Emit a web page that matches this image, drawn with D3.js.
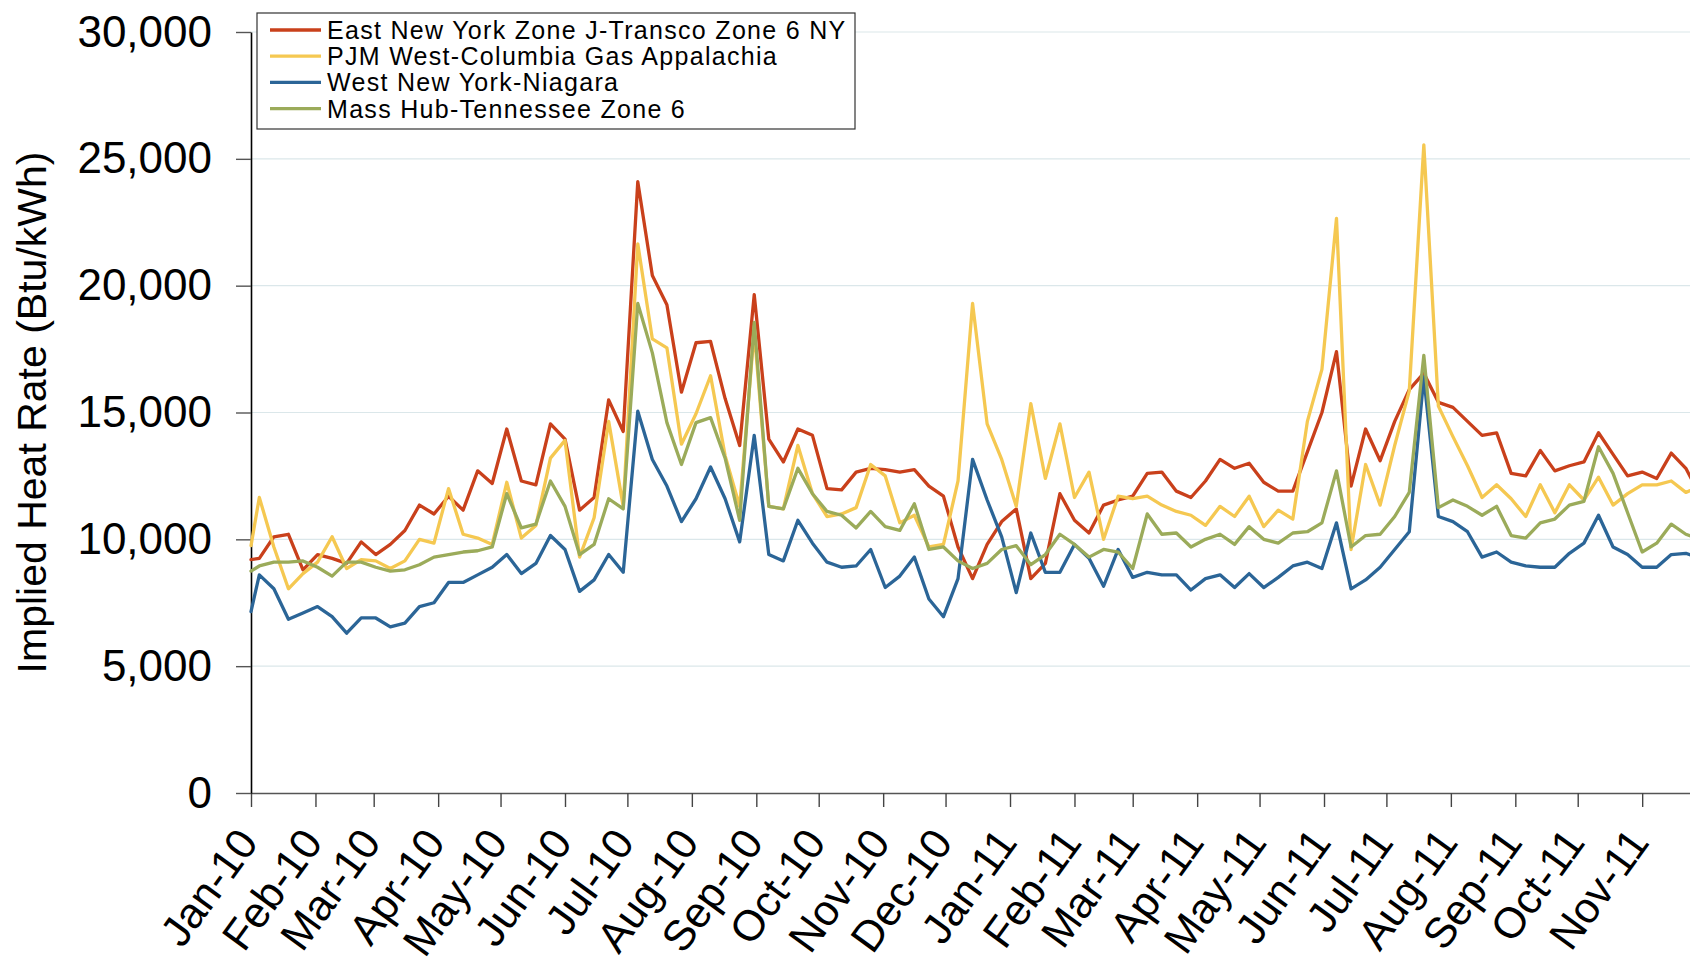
<!DOCTYPE html>
<html>
<head>
<meta charset="utf-8">
<script src="https://cdn.jsdelivr.net/npm/d3@7"></script>
<style>
    body { margin: 0; background: #ffffff; }
    svg text { font-family: "Liberation Sans", Arial, sans-serif; fill: #000; }
    .grid line { stroke: #dbe7ea; stroke-width: 1.2; }
    .y-axis path { stroke: #000; stroke-width: 1.6; }
    .y-axis line { stroke: #555; stroke-width: 1.4; }
    .x-axis path { stroke: #555; stroke-width: 1.6; }
    .x-axis line { stroke: #444; stroke-width: 1.4; }
    .series { fill: none; stroke-width: 3.3; stroke-linejoin: round; stroke-linecap: round; }
</style>
</head>
<body>
<div id="chart"></div>
<script>

// Weekly observations: first point on Jan 1 2010, then every 7 days from Jan 5 2010
const firstDate = new Date(2010, 0, 1);
const weeklyStart = new Date(2010, 0, 5);
const weekCount = 100;

const seriesNames = [
    "East New York Zone J-Transco Zone 6 NY",
    "PJM West-Columbia Gas Appalachia",
    "West New York-Niagara",
    "Mass Hub-Tennessee Zone 6"
];

const seriesColors = ["#c9401b", "#f5c851", "#2b6597", "#9bab5a"];

// Implied heat rate, Btu/kWh
const eastNY = [
    9200, 9250, 10100, 10200, 8800, 9400, 9250, 9050, 9900, 9400,
    9800, 10350, 11350, 11000, 11700, 11150, 12700, 12200, 14350, 12300,
    12150, 14550, 13950, 11150, 11650, 15500, 14250, 24100, 20400, 19250,
    15800, 17750, 17800, 15550, 13700, 19650, 13950, 13050, 14350, 14100,
    12000, 11950, 12650, 12800, 12750, 12650, 12750, 12100, 11700, 9700,
    8450, 9800, 10700, 11200, 8450, 9050, 11800, 10750, 10250, 11350,
    11550, 11700, 12600, 12650, 11900, 11650, 12300, 13150, 12800, 13000,
    12250, 11900, 11900, 13450, 15000, 17400, 12100, 14350, 13100, 14650,
    15900, 16550, 15400, 15200, 14650, 14100, 14200, 12600, 12500, 13500,
    12700, 12900, 13050, 14200, 13350, 12500, 12650, 12400, 13400, 12800,
    11700
];

const pjmWest = [
    9750, 11650, 9700, 8050, 8650, 9100, 10100, 8850, 9200, 9150,
    8850, 9150, 10000, 9850, 12000, 10200, 10050, 9800, 12250, 10050,
    10550, 13200, 13900, 9300, 10850, 14650, 11300, 21650, 17900, 17550,
    13750, 14950, 16450, 13300, 11300, 18200, 11300, 11200, 13700, 11800,
    10900, 11000, 11250, 12950, 12500, 10650, 10950, 9700, 9800, 12300,
    19300, 14550, 13150, 11300, 15350, 12400, 14550, 11650, 12650, 10000,
    11700, 11600, 11700, 11350, 11100, 10950, 10550, 11300, 10900, 11700,
    10500, 11150, 10800, 14650, 16700, 22650, 9600, 12950, 11350, 13700,
    15850, 25550, 15250, 14050, 12900, 11650, 12150, 11600, 10900, 12150,
    11050, 12150, 11550, 12450, 11350, 11800, 12150, 12150, 12300, 11850,
    12100
];

const westNY = [
    7150, 8600, 8050, 6850, 7100, 7350, 6950, 6300, 6900, 6900,
    6550, 6700, 7350, 7500, 8300, 8300, 8600, 8900, 9400, 8650,
    9050, 10150, 9600, 7950, 8400, 9400, 8700, 15050, 13150, 12100,
    10700, 11600, 12850, 11600, 9900, 14100, 9400, 9150, 10750, 9850,
    9100, 8900, 8950, 9600, 8100, 8550, 9300, 7650, 6950, 8450,
    13150, 11550, 10100, 7900, 10250, 8700, 8700, 9800, 9250, 8150,
    9600, 8500, 8700, 8600, 8600, 8000, 8450, 8600, 8100, 8650,
    8100, 8500, 8950, 9100, 8850, 10650, 8050, 8400, 8900, 9600,
    10300, 16400, 10900, 10700, 10300, 9300, 9500, 9100, 8950, 8900,
    8900, 9450, 9850, 10950, 9700, 9400, 8900, 8900, 9400, 9450,
    9250
];

const massHub = [
    8750, 8950, 9100, 9100, 9150, 8900, 8550, 9100, 9100, 8900,
    8750, 8800, 9000, 9300, 9400, 9500, 9550, 9700, 11800, 10450,
    10600, 12300, 11300, 9400, 9800, 11600, 11200, 19300, 17350, 14600,
    12950, 14600, 14800, 13200, 10750, 18550, 11300, 11200, 12800, 11800,
    11100, 10950, 10450, 11100, 10500, 10350, 11400, 9600, 9700, 9150,
    8850, 9050, 9600, 9750, 9000, 9400, 10200, 9800, 9300, 9600,
    9500, 8850, 11000, 10200, 10250, 9700, 10000, 10200, 9800, 10500,
    10000, 9850, 10250, 10300, 10650, 12700, 9700, 10150, 10200, 10900,
    11850, 17250, 11250, 11550, 11300, 10950, 11300, 10150, 10050, 10650,
    10800, 11350, 11500, 13650, 12600, 11050, 9500, 9850, 10600, 10200,
    10000
];

const yTicks = [0, 5000, 10000, 15000, 20000, 25000, 30000];
const yTitle = "Implied Heat Rate (Btu/kWh)";

// visible date window of the picture
const xStart = new Date(2010, 0, 1);
const xEnd = new Date(2011, 10, 24);


class cLineChart {

    constructor(_parentElement, _dates, _series) {
        this.parentElement = _parentElement;
        this.dates = _dates;
        this.series = _series;
        this.initVis();
    }

    initVis() {
        let vis = this;

        vis.margin = { top: 32, right: 0, bottom: 176, left: 251 };
        vis.totalWidth = 1690;
        vis.totalHeight = 969;
        vis.width = vis.totalWidth - vis.margin.left - vis.margin.right;
        vis.height = vis.totalHeight - vis.margin.top - vis.margin.bottom;

        vis.svgRoot = d3.select("#" + vis.parentElement).append("svg")
            .attr("width", vis.totalWidth)
            .attr("height", vis.totalHeight);

        vis.svgRoot.append("rect")
            .attr("width", vis.totalWidth)
            .attr("height", vis.totalHeight)
            .attr("fill", "#fff");

        vis.svg = vis.svgRoot.append("g")
            .attr("transform", "translate(" + vis.margin.left + "," + vis.margin.top + ")");

        // Scales
        vis.x = d3.scaleTime()
            .domain([xStart, xEnd])
            .range([0, vis.width]);

        vis.y = d3.scaleLinear()
            .domain([0, 30000])
            .range([vis.height, 0]);

        // Gridlines
        vis.svg.append("g")
            .attr("class", "grid")
            .selectAll("line")
            .data(yTicks.filter(d => d > 0))
            .enter().append("line")
            .attr("x1", 0)
            .attr("x2", vis.width)
            .attr("y1", d => vis.y(d))
            .attr("y2", d => vis.y(d));

        // Axes
        vis.xAxis = d3.axisBottom(vis.x)
            .ticks(d3.timeMonth.every(1))
            .tickFormat(d3.timeFormat("%b-%y"))
            .tickSize(14)
            .tickSizeOuter(0);

        vis.yAxis = d3.axisLeft(vis.y)
            .tickValues(yTicks)
            .tickFormat(d3.format(","))
            .tickSize(15)
            .tickPadding(24)
            .tickSizeOuter(0);

        let xg = vis.svg.append("g")
            .attr("class", "x-axis axis")
            .attr("transform", "translate(0," + vis.height + ")")
            .call(vis.xAxis);

        // rotated month labels, ending just right of each tick
        xg.selectAll("text")
            .attr("y", 0)
            .attr("dy", 0)
            .style("font-size", "43px")
            .style("text-anchor", "end")
            .attr("transform", "translate(8,50) rotate(-54)");

        let yg = vis.svg.append("g")
            .attr("class", "y-axis axis")
            .call(vis.yAxis);

        yg.selectAll("text")
            .style("font-size", "44px");

        // Axis title
        vis.svgRoot.append("text")
            .attr("class", "axis-title")
            .attr("transform", "translate(46," + (vis.margin.top + vis.height / 2) + ") rotate(-90)")
            .style("text-anchor", "middle")
            .style("font-size", "41px")
            .text(yTitle);

        // Lines (first series underneath, last on top)
        vis.line = d3.line()
            .x((d, i) => vis.x(vis.dates[i]))
            .y(d => vis.y(d));

        vis.svg.selectAll(".series")
            .data(vis.series)
            .enter().append("path")
            .attr("class", "series")
            .attr("stroke", d => d.color)
            .attr("d", d => vis.line(d.values));

        // Legend
        let legend = vis.svgRoot.append("g")
            .attr("class", "legend")
            .attr("transform", "translate(257,13)");

        legend.append("rect")
            .attr("width", 598)
            .attr("height", 116)
            .attr("fill", "#fff")
            .attr("stroke", "#333")
            .attr("stroke-width", 1.2);

        let legendItems = legend.selectAll(".legend-item")
            .data(vis.series)
            .enter().append("g")
            .attr("class", "legend-item")
            .attr("transform", (d, i) => "translate(0," + (17 + i * 26.2) + ")");

        legendItems.append("line")
            .attr("x1", 13)
            .attr("x2", 64)
            .attr("stroke", d => d.color)
            .attr("stroke-width", 3.3);

        legendItems.append("text")
            .attr("x", 70)
            .attr("dy", "0.36em")
            .style("font-size", "25px")
            .style("letter-spacing", "1.3px")
            .text(d => d.name);
    }
}

let dates = [firstDate].concat(d3.range(weekCount).map(i => d3.timeDay.offset(weeklyStart, 7 * i)));

let series = [eastNY, pjmWest, westNY, massHub].map((values, i) => ({
    name: seriesNames[i],
    color: seriesColors[i],
    values: values
}));

let chart = new cLineChart("chart", dates, series);

</script>
</body>
</html>
